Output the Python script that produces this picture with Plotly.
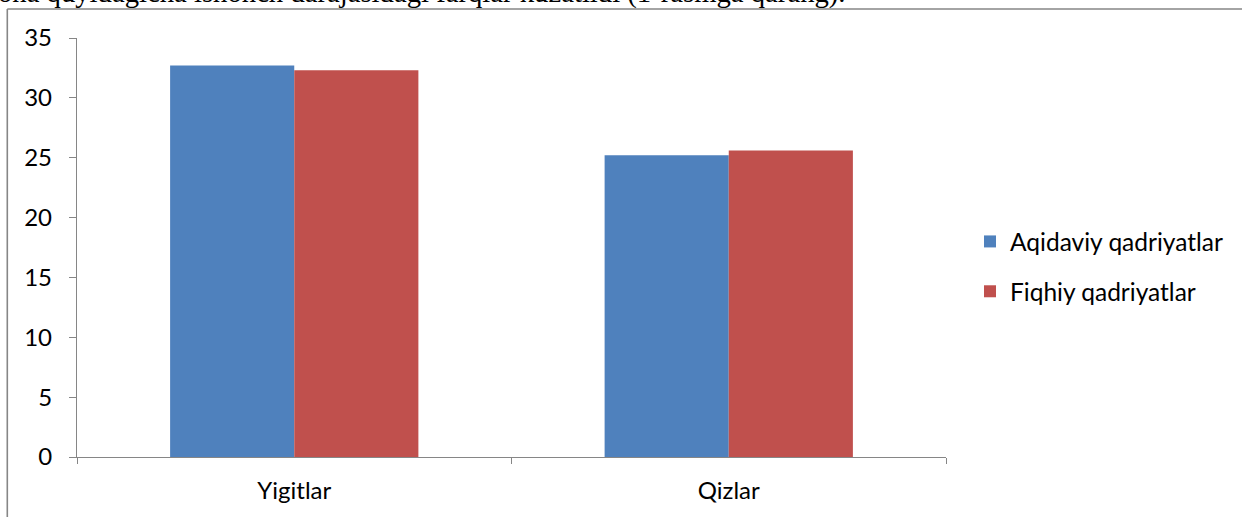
import plotly.graph_objects as go

categories = ["Yigitlar", "Qizlar"]
series_names = ["Aqidaviy qadriyatlar", "Fiqhiy qadriyatlar"]
aqidaviy = [32.7, 25.2]
fiqhiy = [32.3, 25.6]
colors = ["#4F81BD", "#C0504D"]
y_ticks = [0, 5, 10, 15, 20, 25, 30, 35]
caption = "ona quyidagicha ishonch darajasidagi farqlar kuzatildi (1-rasmga qarang)."

W, H = 1242, 517
L, R, T, B = 77, 296, 38, 60
pw, ph = W - L - R, H - T - B

def px_x(x):  # page pixel -> paper
    return (x - L) / pw

def px_y(y):
    return (H - B - y) / ph

FONT = "Lato"
AX = "#868686"

fig = go.Figure()
for name, vals, col in zip(series_names, [aqidaviy, fiqhiy], colors):
    fig.add_trace(go.Bar(x=categories, y=vals, name=name,
                         marker=dict(color=col, line=dict(width=0)),
                         legendgroup=name))

fig.update_layout(
    width=W, height=H,
    margin=dict(l=L, r=R, t=T, b=B, pad=0),
    paper_bgcolor="white", plot_bgcolor="white",
    barmode="group", bargap=0.4286, bargroupgap=0,
    font=dict(family=FONT, size=24, color="black"),
    showlegend=True,
    legend=dict(x=px_x(970), xanchor="left", y=px_y(266.5), yanchor="middle",
                font=dict(family=FONT, size=24.5), tracegroupgap=15, itemwidth=30,
                bgcolor="rgba(0,0,0,0)"),
    xaxis=dict(type="category", range=[-0.5, 1.5], showline=True, linecolor=AX, linewidth=1.3,
               ticks="outside", tickson="boundaries", ticklen=6, tickcolor=AX, tickwidth=1.3,
               showgrid=False, ticklabelstandoff=12, zeroline=False),
    yaxis=dict(range=[0, 35], tickvals=y_ticks, showline=True, linecolor=AX, linewidth=1.3,
               ticks="outside", ticklen=7, tickcolor=AX, tickwidth=1.3, showgrid=False,
               zeroline=False, ticklabelstandoff=12),
)

fig.add_annotation(text=caption, xref="paper", yref="paper", x=px_x(-4), y=px_y(11),
                   xanchor="left", yanchor="bottom", showarrow=False,
                   font=dict(family="Liberation Serif", size=28.7, color="black"))

fig.add_shape(type="line", xref="paper", yref="paper", x0=px_x(7.3), x1=px_x(1245),
              y0=px_y(9), y1=px_y(9), line=dict(color=AX, width=1.6), layer="above")
fig.add_shape(type="line", xref="paper", yref="paper", x0=px_x(7.3), x1=px_x(7.3),
              y0=px_y(9), y1=px_y(530), line=dict(color=AX, width=1.6), layer="above")

fig.write_html("out.html", config={"displayModeBar": False},
               post_script="document.body.style.margin='0';")
